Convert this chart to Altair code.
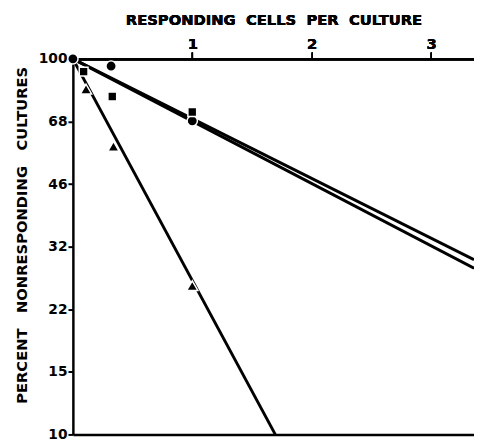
import altair as alt
import pandas as pd

# Data
circ_x = [0.0, 0.32, 1.0]
circ_y = [100, 95.7, 68.4]
sq_x = [0.09, 0.33, 1.0]
sq_y = [92.5, 79.4, 72.2]
tri_x = [0.11, 0.34, 1.0]
tri_y = [83.1, 58.5, 24.9]

# fitted lines (start, end)
line_names = ["upper", "upper", "lower", "lower", "triangle", "triangle"]
line_x = [0.0, 3.36, 0.0, 3.36, 0.0, 1.695]
line_y = [100, 29.2, 100, 27.7, 100, 10]

y_ticks = [100, 68.1, 46.4, 31.6, 21.5, 14.7, 10]
x_ticks = [1, 2, 3]

FONT = "DejaVu Sans"
GAP2 = " \u00a0"
GAP3 = " \u00a0\u00a0"

circ_df = pd.DataFrame({"x": circ_x, "y": circ_y})
sq_df = pd.DataFrame({"x": sq_x, "y": sq_y})
tri_df = pd.DataFrame({"x": tri_x, "y": tri_y})
lines = pd.DataFrame({"x": line_x, "y": line_y, "series": line_names})

xscale = alt.Scale(domain=[0, 3.36], nice=False, zero=False)
yscale = alt.Scale(type="log", domain=[10, 100], nice=False)

x_top = alt.X(
    "x:Q", scale=xscale,
    axis=alt.Axis(
        orient="top", values=x_ticks, format="d", grid=False,
        title="RESPONDING" + GAP2 + "CELLS" + GAP2 + "PER" + GAP2 + "CULTURE",
        titleFont=FONT, titleFontSize=15, titleFontWeight="bold", titleColor="black",
        titleY=-35, titleBaseline="alphabetic",
        labelFont=FONT, labelFontSize=15, labelFontWeight="bold", labelColor="black",
        labelPadding=1, tickSize=7, tickWidth=1.5, tickColor="black",
        domainWidth=2.5, domainColor="black",
    ),
)
x_bottom = alt.X(
    "x:Q", scale=xscale,
    axis=alt.Axis(orient="bottom", labels=False, ticks=False, grid=False, title=None,
                  domainWidth=2.5, domainColor="black"),
)
y_left = alt.Y(
    "y:Q", scale=yscale,
    axis=alt.Axis(
        orient="left", values=y_ticks, format=".0f", grid=False,
        title="PERCENT" + GAP3 + "NONRESPONDING" + GAP3 + "CULTURES",
        titleFont=FONT, titleFontSize=15, titleFontWeight="bold", titleColor="black",
        titleX=-44, titleY=179, titleAngle=-90,
        labelFont=FONT, labelFontSize=14, labelFontWeight="bold", labelColor="black",
        labelPadding=1, tickSize=5, tickWidth=2, tickColor="black",
        domainWidth=2.5, domainColor="black",
    ),
)

line_layer = alt.Chart(lines).mark_line(color="black", strokeWidth=3).encode(
    x=x_top, y=y_left, detail="series:N"
)
bottom_layer = alt.Chart(lines).mark_line(opacity=0).encode(
    x=x_bottom, y=y_left, detail="series:N"
)


def points(df, shape, size):
    return alt.Chart(df).mark_point(
        shape=shape, size=size, filled=True, color="black",
        stroke="white", strokeWidth=1.5, opacity=1,
    ).encode(x=x_top, y=y_left)


circ_layer = points(circ_df, "circle", 110)
sq_layer = points(sq_df, "square", 80)
tri_layer = points(tri_df, "triangle-up", 130)

chart = alt.layer(line_layer, circ_layer, sq_layer, tri_layer, bottom_layer).properties(
    width=408, height=382,
    autosize=alt.AutoSizeParams(type="none"),
    padding={"left": 66, "top": 48, "right": 0, "bottom": 6},
).configure_view(stroke=None).configure(background="white")

chart.save("out.html", embed_options={"renderer": "svg", "actions": False})
